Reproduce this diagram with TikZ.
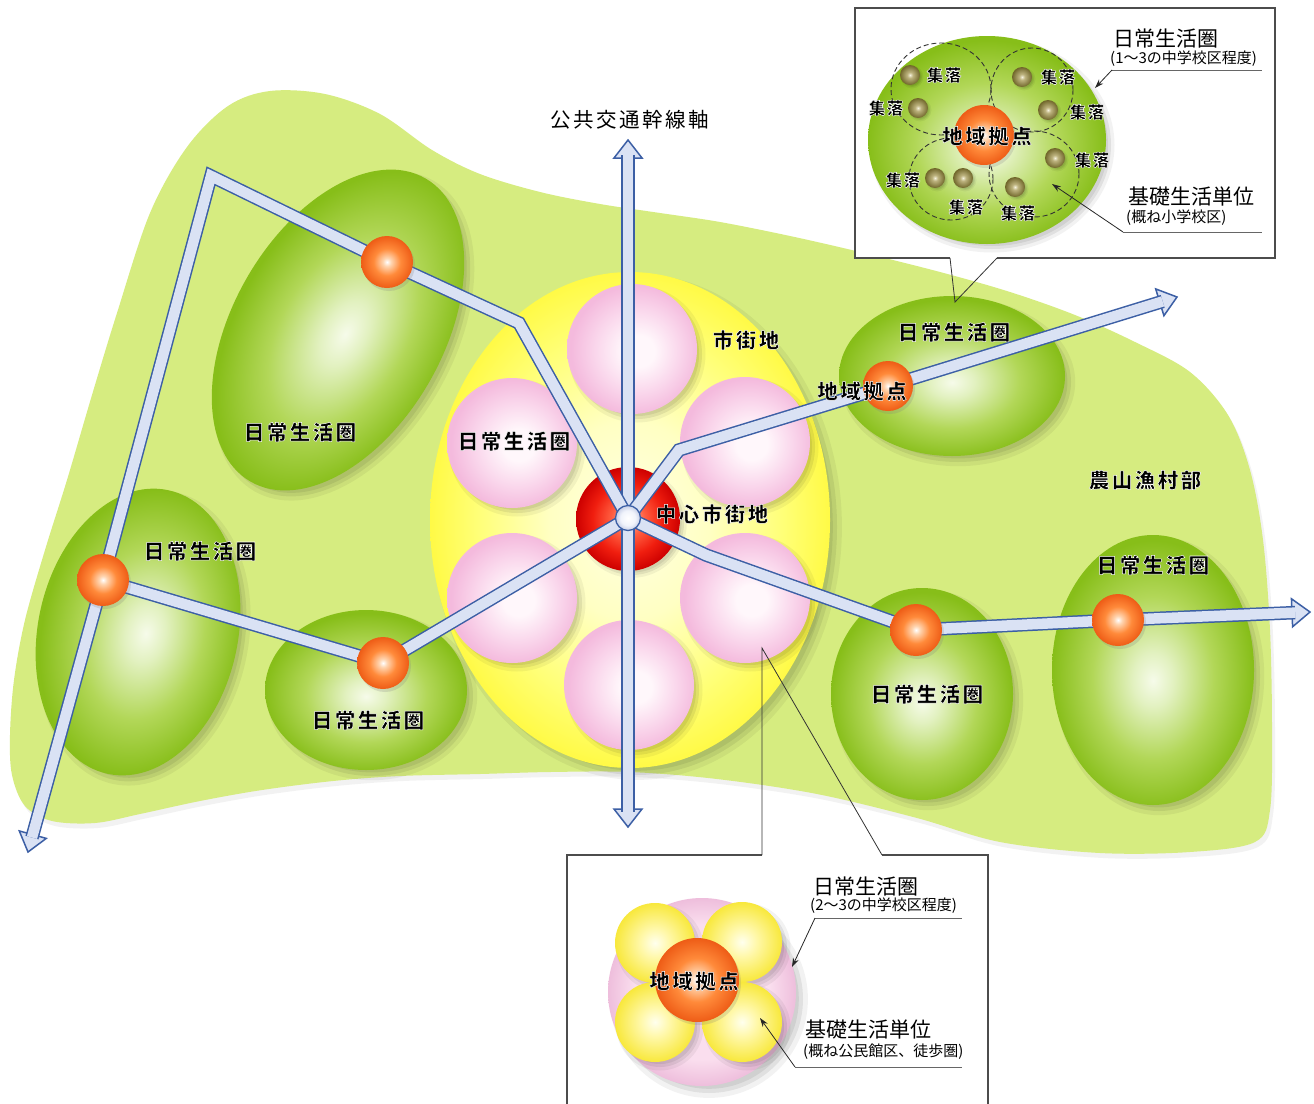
\documentclass[tikz,border=0pt]{standalone}
\usepackage{fontspec}
\setmainfont{Noto Sans CJK JP}
\usetikzlibrary{calc,arrows.meta,shadows}

\definecolor{blob}{RGB}{214,236,128}
\definecolor{gout}{RGB}{135,190,25}
\definecolor{gmid}{RGB}{178,215,88}
\definecolor{gl}{RGB}{226,241,192}
\definecolor{gcen}{RGB}{246,251,234}
\definecolor{yout}{RGB}{255,250,70}
\definecolor{ymid}{RGB}{255,255,120}
\definecolor{yl}{RGB}{255,255,195}
\definecolor{ycen}{RGB}{255,255,228}
\definecolor{pout}{RGB}{244,186,221}
\definecolor{pmid}{RGB}{250,215,236}
\definecolor{pcen}{RGB}{255,247,251}
\definecolor{rout}{RGB}{205,0,0}
\definecolor{rmid}{RGB}{240,30,15}
\definecolor{rl}{RGB}{255,95,65}
\definecolor{rcen}{RGB}{255,195,175}
\definecolor{oout}{RGB}{238,92,22}
\definecolor{omid}{RGB}{255,138,58}
\definecolor{ol}{RGB}{255,212,175}
\definecolor{olvout}{RGB}{112,102,42}
\definecolor{olvmid}{RGB}{190,180,128}
\definecolor{olvcen}{RGB}{246,242,222}
\definecolor{hubout}{RGB}{198,206,230}
\definecolor{hubmid}{RGB}{240,243,251}
\definecolor{byout}{RGB}{248,232,60}
\definecolor{bymid}{RGB}{255,248,170}
\definecolor{bycen}{RGB}{255,255,238}
\definecolor{bpout}{RGB}{238,190,220}
\definecolor{bpcen}{RGB}{250,222,238}
\definecolor{roadblue}{RGB}{60,95,165}
\definecolor{roadfill}{RGB}{218,226,244}

\pgfdeclareradialshading{greenball}{\pgfpoint{0bp}{-2bp}}{color(0bp)=(gcen); color(5bp)=(gl); color(15bp)=(gmid); color(25bp)=(gout); color(50bp)=(gout)}
\pgfdeclareradialshading{yellowfield}{\pgfpoint{0bp}{0bp}}{color(0bp)=(ycen); color(10bp)=(yl); color(19bp)=(ymid); color(25bp)=(yout); color(50bp)=(yout)}
\pgfdeclareradialshading{pinkball}{\pgfpoint{3bp}{-1bp}}{color(0bp)=(pcen); color(6bp)=(pcen); color(16bp)=(pmid); color(25bp)=(pout); color(50bp)=(pout)}
\pgfdeclareradialshading{redball}{\pgfpoint{0bp}{0bp}}{color(0bp)=(rcen); color(8bp)=(rl); color(17bp)=(rmid); color(25bp)=(rout); color(50bp)=(rout)}
\pgfdeclareradialshading{orangeball}{\pgfpoint{0bp}{0bp}}{color(0bp)=(white); color(4bp)=(ol); color(13bp)=(omid); color(25bp)=(oout); color(50bp)=(oout)}
\pgfdeclareradialshading{oliveball}{\pgfpoint{0bp}{0bp}}{color(0bp)=(olvcen); color(7bp)=(olvmid); color(25bp)=(olvout); color(50bp)=(olvout)}
\pgfdeclareradialshading{hubball}{\pgfpoint{0bp}{0bp}}{color(0bp)=(white); color(15bp)=(hubmid); color(25bp)=(hubout); color(50bp)=(hubout)}
\pgfdeclareradialshading{byball}{\pgfpoint{0bp}{0bp}}{color(0bp)=(bycen); color(9bp)=(bymid); color(25bp)=(byout); color(50bp)=(byout)}
\pgfdeclareradialshading{bpball}{\pgfpoint{0bp}{0bp}}{color(0bp)=(bpcen); color(18bp)=(bpcen); color(25bp)=(bpout); color(50bp)=(bpout)}

% shaded ellipse with soft shadow: shading, x, y, rx, ry, rotation, shadow offset
\newcommand\sball[7]{%
  \begin{scope}[transform canvas={shift={(#2+#7,#3+#7)},rotate=#6}]
    \fill[black,opacity=.05] (0,0) ellipse [x radius=#4pt+#7pt*0.7,y radius=#5pt+#7pt*0.7];
    \fill[black,opacity=.07] (0,0) ellipse [x radius=#4pt,y radius=#5pt];
    \fill[black,opacity=.07] (0,0) ellipse [x radius=#4pt-#7pt*0.6,y radius=#5pt-#7pt*0.6];
  \end{scope}
  \begin{scope}[transform canvas={shift={(#2,#3)},rotate=#6}]
    \shade[shading=#1] (0,0) ellipse [x radius=#4pt,y radius=#5pt];
  \end{scope}}

% block arrow head: tip, previous point, name of road end coordinate
\newcommand\arrowhd[3]{%
  \coordinate (#3b) at ($(#1)!18pt!(#2)$);
  \coordinate (#3) at ($(#1)!15pt!(#2)$);
  \draw[ahead] (#1) -- ($(#3b)!14pt!90:(#1)$) -- ($(#3b)!14pt!-90:(#1)$) -- cycle;}

% haloed text: one copy, bold, filled black and thinly stroked white
\newcommand\hl[1]{{\bfseries\special{pdf:literal direct 2 Tr 0.5 w 1 j 1 1 1 RG}#1\special{pdf:literal direct 0 Tr}}}

\begin{document}
\begin{tikzpicture}[x=1pt,y=-1pt,
  road/.style={draw=roadblue, line width=1.5pt, double=roadfill, double distance=10.5pt, line join=miter, miter limit=20},
  ahead/.style={fill=roadfill, draw=roadblue, line width=1.5pt, line join=miter},
  lbl/.style={inner sep=0pt, font=\fontsize{20.5}{24}\selectfont\addfontfeature{LetterSpace=12}},
  slbl/.style={inner sep=0pt, font=\fontsize{16.5}{20}\selectfont\addfontfeature{LetterSpace=10}},
  hlbl/.style={inner sep=0pt, anchor=west, font=\fontsize{21}{24}\selectfont},
  nlbl/.style={inner sep=0pt, anchor=west, font=\fontsize{15}{18}\selectfont},
  uline/.style={draw=black!60, line width=0.8pt},
  callarrow/.style={draw=black!85, line width=0.8pt, -{Stealth[length=9pt,width=6pt]}},
  boxline/.style={draw=black!70, line width=1.1pt},
  ptrline/.style={draw=black!80, line width=0.8pt},
  orb/.style={circle, inner sep=0pt, minimum size=52pt, shade, shading=orangeball,
    drop shadow={shadow xshift=2pt, shadow yshift=-3pt, opacity=.22}},
  hubstyle/.style={circle, inner sep=0pt, minimum size=25pt, draw=roadblue, line width=1.3pt, shade, shading=hubball},
  dashring/.style={draw=black!80, line width=0.9pt, dash pattern=on 5pt off 3pt}
]
\useasboundingbox (0,0) rectangle (1314,1103);
\fill[white] (0,0) rectangle (1314,1103);

% ---------- background region ----------
\begin{scope}[shift={(3,5)}]
\fill[black,opacity=.05] plot[smooth cycle, tension=0.55] coordinates {
(187,147) (228,106) (270,91) (325,94) (380,114) (432,150) (480,174) (540,192) (600,204) (660,213) (720,222) (790,236) (860,252) (940,272) (1010,292) (1075,315) (1135,342) (1190,372) (1228,415) (1250,470) (1263,540) (1270,630) (1272,730) (1270,810) (1255,842) (1190,852) (1100,853) (1000,842) (917,818) (817,794) (717,779) (630,772) (550,772) (480,774) (400,776) (333,781) (262,790) (200,801) (140,814) (95,823) (52,821) (25,806) (12,775) (10,735) (14,680) (25,620) (45,550) (67,480) (92,395) (117,313) (150,213)};
\end{scope}
\fill[blob] plot[smooth cycle, tension=0.55] coordinates {
(187,147) (228,106) (270,91) (325,94) (380,114) (432,150) (480,174) (540,192) (600,204) (660,213) (720,222) (790,236) (860,252) (940,272) (1010,292) (1075,315) (1135,342) (1190,372) (1228,415) (1250,470) (1263,540) (1270,630) (1272,730) (1270,810) (1255,842) (1190,852) (1100,853) (1000,842) (917,818) (817,794) (717,779) (630,772) (550,772) (480,774) (400,776) (333,781) (262,790) (200,801) (140,814) (95,823) (52,821) (25,806) (12,775) (10,735) (14,680) (25,620) (45,550) (67,480) (92,395) (117,313) (150,213)};

% ---------- daily living areas ----------
\sball{greenball}{338}{330}{175}{105}{60}{6}
\sball{greenball}{138}{632}{145}{100}{78}{6}
\sball{greenball}{366}{690}{101}{80}{0}{6}
\sball{greenball}{952}{376}{113}{80}{0}{6}
\sball{greenball}{922}{694}{91}{106}{0}{6}
\sball{greenball}{1153}{670}{101}{135}{0}{6}

% ---------- urban area ----------
\sball{yellowfield}{630}{520}{200}{248}{0}{7}
\sball{pinkball}{632}{349}{65}{65}{0}{5}
\sball{pinkball}{512}{443}{65}{65}{0}{5}
\sball{pinkball}{745}{442}{65}{65}{0}{5}
\sball{pinkball}{512}{598}{65}{65}{0}{5}
\sball{pinkball}{745}{598}{65}{65}{0}{5}
\sball{pinkball}{629}{685}{65}{65}{0}{5}
\sball{redball}{628}{519}{52}{52}{0}{4}

% ---------- road network ----------
\coordinate (H) at (628,518);
\coordinate (Ttop) at (628,140);
\coordinate (Tbot) at (628,827);
\coordinate (P1) at (519,323);
\coordinate (C1) at (211,176);
\coordinate (Tsw) at (28,852);
\coordinate (P2) at (679,450);
\coordinate (Tne) at (1177,297);
\coordinate (P3) at (706,555);
\coordinate (Te) at (1310,612);
\coordinate (cN1) at (387,262);
\coordinate (cN2) at (103,580);
\coordinate (cN3) at (383,663);
\coordinate (cN4) at (888,386);
\coordinate (cN5) at (916,630);
\coordinate (cN6) at (1118,620);

\arrowhd{Ttop}{H}{Atop}
\arrowhd{Tbot}{H}{Abot}
\arrowhd{Tsw}{cN2}{Asw}
\arrowhd{Tne}{cN4}{Ane}
\arrowhd{Te}{cN6}{Ae}

\draw[road] (Atop) -- (Abot);
\draw[road] (H) -- (P1) -- (cN1) -- (C1) -- (cN2) -- (Asw);
\draw[road] (cN2) -- (cN3) -- (H);
\draw[road] (H) -- (P2) -- (cN4) -- (Ane);
\draw[road] (H) -- (P3) -- (cN5) -- (cN6) -- (Ae);

\node[hubstyle] (hub) at (H) {};
\node[orb] (N1) at (cN1) {};
\node[orb] (N2) at (cN2) {};
\node[orb] (N3) at (cN3) {};
\node[orb, minimum size=50pt] (N4) at (cN4) {};
\node[orb] (N5) at (cN5) {};
\node[orb] (N6) at (cN6) {};

% ---------- labels ----------
\node[lbl] (axis) at (630,120) {公共交通幹線軸};
\node[lbl] (L1) at (300,432) {\hl{日常生活圏}};
\node[lbl] (L2) at (200,551) {\hl{日常生活圏}};
\node[lbl] (L3) at (368,720) {\hl{日常生活圏}};
\node[lbl] (L4) at (514,441) {\hl{日常生活圏}};
\node[lbl] (L5) at (954,332) {\hl{日常生活圏}};
\node[lbl] (L6) at (927,694) {\hl{日常生活圏}};
\node[lbl] (L7) at (1153,565) {\hl{日常生活圏}};
\node[lbl] (town) at (746,340) {\hl{市街地}};
\node[lbl] (center) at (712,514) {\hl{中心市街地}};
\node[lbl] (rural) at (1145,480) {\hl{農山漁村部}};
\node[lbl] (hubL) at (862,391) {\hl{地域拠点}};

% ---------- top inset ----------
\coordinate (tip1) at (955,302);
\fill[white] (855,8) rectangle (1275,258);
\draw[boxline] (950,258) -- (855,258) -- (855,8) -- (1275,8) -- (1275,258) -- (997,258);
\draw[ptrline] (950,258) -- (tip1) -- (997,258);

\sball{greenball}{987}{140}{119}{104}{0}{5}
\draw[dashring] (941,89) ellipse [x radius=50pt, y radius=46pt];
\draw[dashring] (1032,90) ellipse [x radius=41pt, y radius=42pt];
\draw[dashring] (951,179) ellipse [x radius=42pt, y radius=41pt];
\draw[dashring] (1034,174) ellipse [x radius=45pt, y radius=43pt];
\sball{oliveball}{910}{75}{10}{10}{0}{2}
\sball{oliveball}{918}{108}{10}{10}{0}{2}
\sball{oliveball}{1022}{77}{10}{10}{0}{2}
\sball{oliveball}{1048}{110}{10}{10}{0}{2}
\sball{oliveball}{1055}{158}{10}{10}{0}{2}
\sball{oliveball}{935}{178}{10}{10}{0}{2}
\sball{oliveball}{963}{178}{10}{10}{0}{2}
\sball{oliveball}{1015}{187}{10}{10}{0}{2}
\node[orb, minimum size=60pt] (N7) at (984,135) {};
\node[lbl] (hubT) at (987,136) {\hl{地域拠点}};
\node[slbl] (s1) at (944,75) {\hl{集落}};
\node[slbl] (s2) at (886,108) {\hl{集落}};
\node[slbl] (s3) at (1058,77) {\hl{集落}};
\node[slbl] (s4) at (1087,112) {\hl{集落}};
\node[slbl] (s5) at (1092,160) {\hl{集落}};
\node[slbl] (s6) at (903,180) {\hl{集落}};
\node[slbl] (s7) at (966,207) {\hl{集落}};
\node[slbl] (s8) at (1018,213) {\hl{集落}};

\node[hlbl] (tA) at (1113,39) {日常生活圏};
\node[nlbl] (tAn) at (1110,59) {(1～3の中学校区程度)};
\coordinate (tAu) at (1112,70);
\coordinate (tAe) at (1262,70);
\coordinate (tAt) at (1095,88);
\draw[uline] (tAu) -- (tAe);
\draw[callarrow] (tAu) -- (tAt);
\node[hlbl] (tB) at (1128,197) {基礎生活単位};
\node[nlbl] (tBn) at (1126,218) {(概ね小学校区)};
\coordinate (tBu) at (1123,232);
\coordinate (tBe) at (1262,232);
\coordinate (tBt) at (1052,184);
\draw[uline] (tBu) -- (tBe);
\draw[callarrow] (tBu) -- (tBt);

% ---------- bottom inset ----------
\coordinate (tip2) at (762,648);
\fill[white] (567,855) rectangle (988,1110);
\draw[boxline] (762,855) -- (567,855) -- (567,1112);
\draw[boxline] (882,855) -- (988,855) -- (988,1112);
\draw[ptrline] (762,855) -- (tip2) -- (882,855);

\sball{bpball}{702}{992}{94}{94}{0}{7}
\sball{byball}{655}{943}{40}{40}{0}{5}
\sball{byball}{742}{942}{40}{40}{0}{5}
\sball{byball}{655}{1022}{40}{40}{0}{5}
\sball{byball}{742}{1022}{40}{40}{0}{5}
\node[orb, minimum size=84pt] (N8) at (697,980) {};
\node[lbl] (hubB) at (694,981) {\hl{地域拠点}};

\node[hlbl] (bA) at (813,886) {日常生活圏};
\node[nlbl] (bAn) at (810,906) {(2～3の中学校区程度)};
\coordinate (bAu) at (815,918);
\coordinate (bAe) at (962,918);
\coordinate (bAt) at (792,967);
\draw[uline] (bAu) -- (bAe);
\draw[callarrow] (bAu) -- (bAt);
\node[hlbl] (bB) at (805,1030) {基礎生活単位};
\node[nlbl] (bBn) at (803,1052) {(概ね公民館区、徒歩圏)};
\coordinate (bBu) at (795,1067);
\coordinate (bBe) at (962,1067);
\coordinate (bBt) at (760,1018);
\draw[uline] (bBu) -- (bBe);
\draw[callarrow] (bBu) -- (bBt);
\end{tikzpicture}
\end{document}
